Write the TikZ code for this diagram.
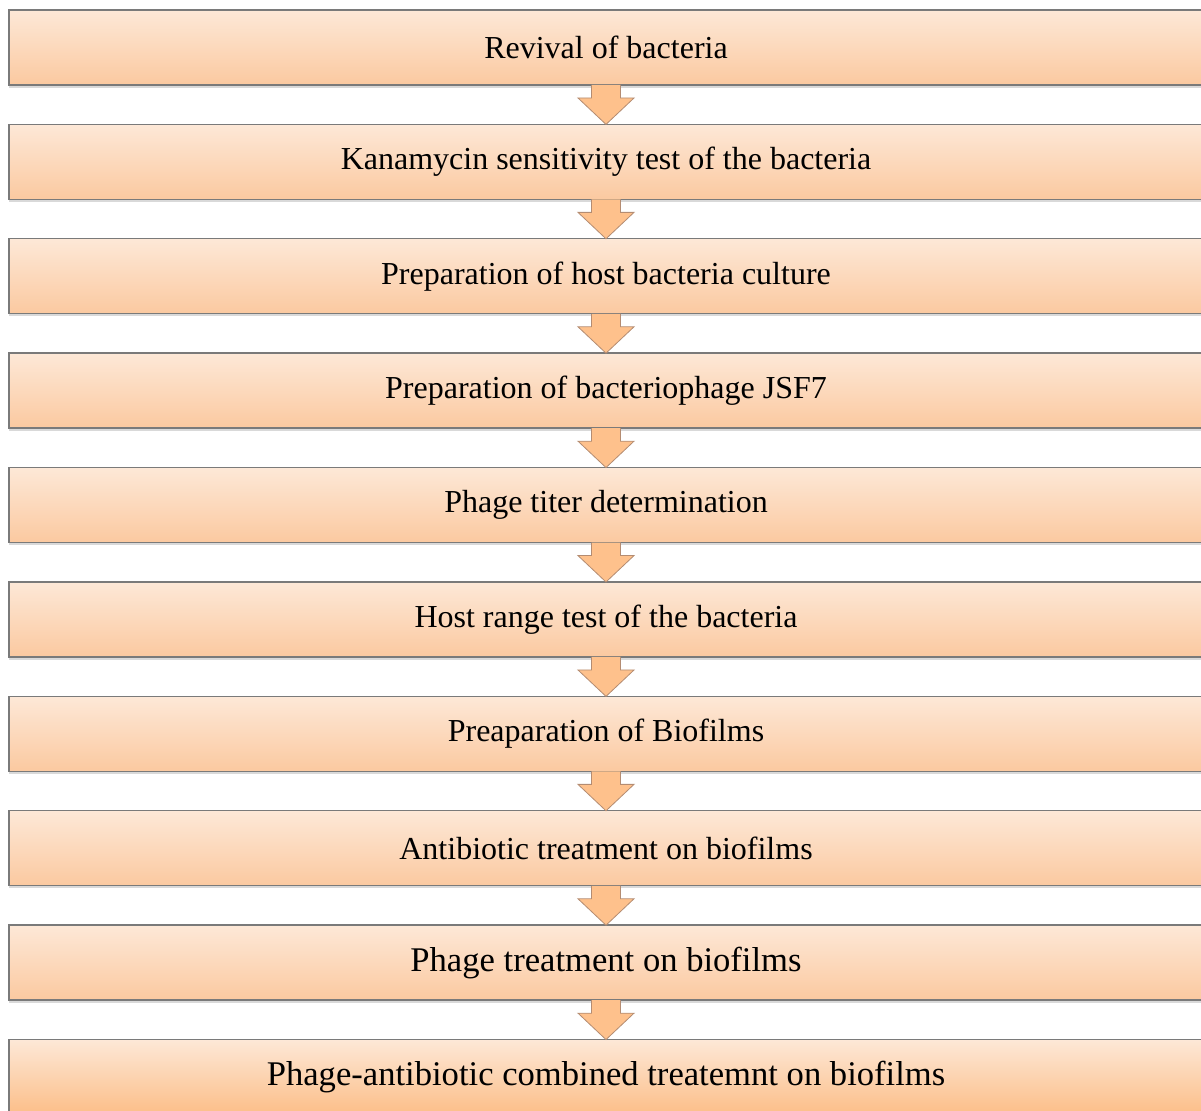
\documentclass[tikz,border=0pt]{standalone}
\usepackage{fontspec}
\setmainfont{Liberation Serif}
\usepackage{xcolor}
\usepackage{tikz}
\usetikzlibrary{positioning,calc,shadows}
\definecolor{peachtop}{HTML}{FDE8D7}
\definecolor{peachbot}{HTML}{FBC9A0}
\definecolor{arrowfill}{HTML}{FEC18C}
\definecolor{arrowline}{HTML}{B48C72}
\definecolor{boxline}{HTML}{7A7A7A}
\newcommand{\steparrow}[2]{%
  \filldraw[flowarrow] ($(#1.south)+(-7.25pt,0)$) -- ($(#1.south)+(-7.25pt,-6.5pt)$)
    -- ($(#1.south)+(-14pt,-6.5pt)$) -- (#2.north) -- ($(#1.south)+(14pt,-6.5pt)$)
    -- ($(#1.south)+(7.25pt,-6.5pt)$) -- ($(#1.south)+(7.25pt,0)$);}

\begin{document}
\begin{tikzpicture}[
    stepbox/.style={draw=boxline, line width=0.7pt, top color=peachtop,
        bottom color=peachbot, minimum width=597pt, minimum height=37.5pt,
        inner sep=0pt, outer sep=0pt, font=\fontsize{16}{18}\selectfont,
        drop shadow={opacity=0.3, shadow xshift=0pt, shadow yshift=-1.3pt}},
    bigstep/.style={stepbox, font=\fontsize{17.3}{19}\selectfont},
    flowarrow/.style={fill=arrowfill, draw=arrowline, line width=0.4pt},
]
\useasboundingbox (0,0) rectangle (600.5pt,-555.5pt);

\node[stepbox, anchor=north west] (revival) at (4.5pt,-5pt) {Revival of bacteria};
\node[stepbox, below=19.7pt of revival] (kanamycin) {Kanamycin sensitivity test of the bacteria};
\node[stepbox, below=19.7pt of kanamycin] (host) {Preparation of host bacteria culture};
\node[stepbox, below=19.7pt of host] (phage) {Preparation of bacteriophage JSF7};
\node[stepbox, below=19.7pt of phage] (titer) {Phage titer determination};
\node[stepbox, below=19.7pt of titer] (range) {Host range test of the bacteria};
\node[stepbox, below=19.7pt of range] (biofilm) {Preaparation of Biofilms};
\node[stepbox, below=19.7pt of biofilm] (antibiotic) {Antibiotic treatment on biofilms};
\node[bigstep, below=19.7pt of antibiotic] (phagetreat) {Phage treatment on biofilms};
\node[bigstep, below=19.7pt of phagetreat, bottom color=peachbot!85!orange] (combined)
    {Phage-antibiotic combined treatemnt on biofilms};

\steparrow{revival}{kanamycin}
\steparrow{kanamycin}{host}
\steparrow{host}{phage}
\steparrow{phage}{titer}
\steparrow{titer}{range}
\steparrow{range}{biofilm}
\steparrow{biofilm}{antibiotic}
\steparrow{antibiotic}{phagetreat}
\steparrow{phagetreat}{combined}
\end{tikzpicture}
\end{document}
